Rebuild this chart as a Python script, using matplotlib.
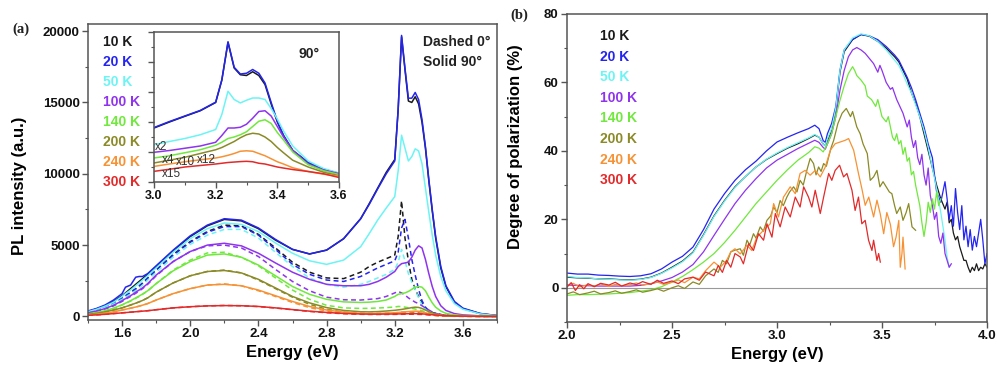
import matplotlib
matplotlib.use('Agg')
import matplotlib.pyplot as plt
from matplotlib.ticker import MultipleLocator, NullFormatter

plt.rcParams['font.family'] = ['Liberation Sans', 'DejaVu Sans']
plt.rcParams['font.weight'] = 'bold'

# ---------------- data: panel (a) PL spectra ----------------
temps = ['10 K', '20 K', '50 K', '100 K', '140 K', '200 K', '240 K', '300 K']
colors = ['#1a1a1a', '#2424f2', '#6cf4f4', '#8f33ee', '#70e83c', '#8a8a26', '#f79234', '#e32a2a']

E_PL = [1.40, 1.45, 1.50, 1.55, 1.60, 1.62, 1.65, 1.68, 1.70, 1.72, 1.75, 1.80, 1.90, 2.00, 2.10, 2.20,
        2.30, 2.40, 2.50, 2.60, 2.70, 2.80, 2.90, 3.00, 3.05, 3.10, 3.15, 3.20, 3.22, 3.24, 3.26, 3.28,
        3.30, 3.32, 3.34, 3.36, 3.38, 3.40, 3.42, 3.44, 3.47, 3.50, 3.55, 3.60, 3.70, 3.80]

sol_10K = [350, 520, 750, 1050, 1450, 1650, 1950, 2250, 2450, 2650, 2950, 3500, 4600, 5600, 6350, 6800,
           6700, 6150, 5350, 4700, 4380, 4650, 5450, 6850, 7900, 9000, 10100, 11000, 14500, 19600, 17300, 15100,
           15000, 15400, 14900, 13600, 11800, 9500, 7400, 5500, 3400, 2100, 1000, 550, 200, 60]
sol_20K = [380, 560, 800, 1150, 1600, 2050, 2200, 2750, 2800, 2800, 3000, 3550, 4650, 5650, 6400, 6850,
           6750, 6200, 5400, 4700, 4380, 4650, 5450, 6850, 7850, 8950, 10000, 10900, 14500, 19700, 17400, 15300,
           15300, 15700, 15200, 13800, 11900, 9600, 7500, 5600, 3500, 2150, 1050, 580, 210, 60]
sol_50K = [330, 500, 720, 1000, 1400, 1600, 1850, 2150, 2350, 2550, 2850, 3400, 4500, 5450, 6150, 6550,
           6450, 5950, 5150, 4430, 3900, 3650, 3950, 4890, 5800, 6760, 7600, 8400, 10200, 12700, 11800, 10900,
           11200, 11750, 11600, 10700, 9000, 7300, 5700, 4300, 2800, 1800, 900, 500, 180, 50]
sol_100K = [250, 380, 550, 780, 1100, 1250, 1450, 1700, 1850, 2000, 2300, 2900, 3850, 4550, 5000, 5130,
            4950, 4430, 3750, 3100, 2600, 2250, 2150, 2150, 2250, 2450, 2750, 3150, 3500, 3700, 3750, 3800,
            4150, 4650, 4950, 4800, 4000, 3000, 2100, 1400, 750, 420, 200, 110, 40, 15]
sol_140K = [180, 270, 400, 580, 820, 930, 1100, 1300, 1430, 1570, 1800, 2300, 3200, 3850, 4300, 4380,
            4150, 3600, 2850, 2100, 1550, 1200, 1020, 980, 1000, 1050, 1150, 1400, 1550, 1600, 1650, 1750,
            1900, 2050, 2100, 2050, 1800, 1350, 950, 650, 380, 220, 110, 60, 25, 10]
sol_200K = [150, 220, 320, 450, 600, 680, 800, 930, 1020, 1120, 1300, 1700, 2350, 2850, 3150, 3220,
            3050, 2600, 2000, 1400, 950, 620, 420, 330, 320, 340, 380, 430, 460, 490, 530, 570,
            620, 650, 630, 560, 450, 340, 250, 170, 100, 60, 30, 20, 10, 5]
sol_240K = [100, 150, 220, 320, 450, 500, 580, 660, 720, 790, 900, 1150, 1600, 1950, 2200, 2250,
            2150, 1850, 1450, 1050, 700, 450, 300, 220, 200, 210, 230, 260, 280, 300, 320, 340,
            360, 370, 360, 320, 260, 200, 150, 110, 70, 40, 20, 10, 5, 0]
sol_300K = [80, 110, 150, 200, 250, 270, 300, 330, 350, 370, 400, 470, 600, 680, 740, 760,
            750, 700, 600, 480, 370, 280, 210, 170, 160, 160, 165, 170, 175, 180, 185, 190,
            195, 195, 190, 180, 160, 140, 120, 100, 70, 50, 30, 20, 10, 5]

das_10K = [300, 450, 650, 920, 1250, 1400, 1650, 1900, 2100, 2300, 2650, 3250, 4350, 5250, 5950, 6400,
           6350, 5750, 4800, 3800, 3100, 2700, 2650, 3100, 3500, 3800, 4050, 4300, 5600, 8100, 5500, 3900,
           2600, 1900, 1400, 950, 550, 400, 280, 200, 130, 90, 50, 30, 10, 0]
das_20K = [310, 460, 670, 950, 1300, 1450, 1700, 1950, 2150, 2350, 2700, 3250, 4300, 5200, 5900, 6300,
           6300, 5700, 4700, 3650, 2950, 2550, 2450, 2800, 3100, 3400, 3650, 3900, 4500, 6200, 6800, 5500,
           4000, 2900, 1900, 1100, 650, 400, 280, 200, 130, 80, 40, 20, 10, 0]
das_50K = [280, 420, 620, 870, 1200, 1350, 1580, 1820, 2000, 2200, 2550, 3100, 4150, 5050, 5700, 6100,
           6100, 5500, 4500, 3500, 2700, 2250, 2050, 2250, 2450, 2700, 2950, 3300, 3800, 4700, 3900, 3000,
           2400, 1900, 1300, 800, 500, 300, 200, 140, 80, 50, 25, 10, 5, 0]
das_100K = [240, 360, 520, 740, 1050, 1200, 1400, 1620, 1780, 1950, 2250, 2850, 3850, 4550, 4950, 5000,
            4800, 4200, 3300, 2450, 1800, 1350, 1170, 1150, 1200, 1250, 1400, 1650, 1750, 1650, 1500, 1300,
            1150, 1000, 900, 750, 600, 450, 320, 220, 130, 80, 40, 20, 5, 0]
das_140K = [170, 260, 380, 560, 800, 910, 1080, 1270, 1400, 1550, 1780, 2300, 3250, 3950, 4450, 4500,
            4150, 3550, 2700, 1850, 1200, 780, 600, 560, 570, 590, 620, 660, 700, 690, 650, 610,
            570, 520, 460, 400, 330, 260, 200, 150, 100, 60, 30, 15, 5, 0]
das_200K = [150, 220, 320, 450, 600, 680, 800, 930, 1020, 1120, 1300, 1700, 2350, 2850, 3150, 3250,
            3050, 2550, 1950, 1350, 850, 500, 300, 220, 200, 210, 220, 250, 270, 290, 300, 310,
            300, 280, 250, 220, 180, 140, 100, 70, 40, 25, 10, 5, 0, 0]
das_240K = [100, 150, 220, 320, 450, 500, 580, 660, 720, 790, 900, 1150, 1600, 1950, 2200, 2280,
            2150, 1800, 1400, 980, 620, 380, 240, 170, 150, 150, 160, 180, 190, 200, 210, 220,
            220, 210, 200, 180, 150, 120, 90, 60, 40, 20, 10, 5, 0, 0]
das_300K = [80, 110, 150, 200, 250, 270, 300, 330, 350, 370, 400, 470, 600, 680, 740, 770,
            750, 690, 590, 470, 350, 260, 190, 150, 140, 140, 140, 145, 150, 150, 155, 155,
            155, 150, 145, 140, 125, 110, 95, 80, 55, 40, 25, 15, 5, 0]

# inset (90 deg, scaled)
E_IN = [3.00, 3.05, 3.10, 3.15, 3.20, 3.22, 3.24, 3.26, 3.28, 3.30, 3.32, 3.34, 3.36, 3.38, 3.40, 3.42,
        3.45, 3.50, 3.55, 3.60]
in_10K = [36, 40, 43.8, 47.5, 53, 68, 93, 76, 71.5, 71, 73.5, 71, 65, 52, 40, 31, 21, 13, 8.5, 5.6]
in_20K = [36.3, 40.3, 44, 47.7, 53.2, 68, 93.5, 76.5, 72, 72.5, 75, 72.5, 66, 53, 40.5, 31, 21, 13, 8.5, 5.8]
in_50K = [24.9, 27, 29, 31.5, 35, 45, 60.5, 55, 52.7, 54.5, 56, 56, 55, 49, 42, 34, 24, 14, 9, 6]
in_100K = [19.8, 21, 22.5, 24, 26.5, 31, 36, 36, 36.5, 38.5, 42.5, 47, 47.5, 44, 37, 30, 21, 12, 8, 5.6]
in_140K = [16, 17.5, 19.5, 21.5, 24.5, 26.5, 29, 30, 31.5, 33.5, 37, 40.5, 41.5, 39, 33, 28, 20, 11.5, 7.5, 5]
in_200K = [12.7, 14.5, 16.5, 19, 21.5, 23, 25, 27, 29.5, 31.5, 32.5, 32, 30, 27, 23, 19.5, 14.5, 10, 6.5, 4.2]
in_240K = [10.4, 12, 13.5, 14.8, 16, 16.8, 17.8, 19, 20.5, 20.8, 20.5, 19, 17.5, 15.5, 13.5, 12, 9.5, 7, 5.2, 3.8]
in_300K = [7.1, 8.5, 10, 11, 12, 12.5, 13, 13.3, 13.6, 13.8, 13.5, 12.5, 12, 11, 10, 9.3, 8.3, 7, 5.5, 3]
inset_scales = ['x2', 'x4', 'x10', 'x12', 'x15']

# ---------------- data: panel (b) degree of polarization ----------------
P10_E = [2.00, 2.05, 2.10, 2.15, 2.20, 2.25, 2.30, 2.35, 2.40, 2.45, 2.50, 2.55, 2.60, 2.65, 2.70, 2.75,
         2.80, 2.85, 2.90, 2.95, 3.00, 3.05, 3.10, 3.15, 3.18, 3.20, 3.22, 3.23, 3.24, 3.26, 3.28, 3.30,
         3.32, 3.36, 3.40, 3.44, 3.48, 3.52, 3.56, 3.58, 3.60, 3.62, 3.64, 3.66, 3.68, 3.70, 3.72, 3.74,
         3.76, 3.78, 3.80, 3.81, 3.82, 3.83, 3.84, 3.85, 3.86, 3.87, 3.88, 3.89, 3.90, 3.91, 3.92, 3.93,
         3.94, 3.95, 3.96, 3.97, 3.98, 3.99, 4.00]
P10 = [3.1, 2.9, 2.8, 2.6, 2.6, 2.4, 2.3, 2.5, 3.1, 4.3, 6.0, 7.8, 10.4, 15.5, 21, 25.5,
       29.5, 32.5, 35.3, 37.5, 39.2, 40.8, 42.1, 43.6, 44.6, 44, 42, 41.5, 43, 46, 52, 63,
       69, 72.5, 74, 73.5, 72, 70, 67.5, 66, 63.5, 61, 57, 54, 50, 45, 40, 35,
       30, 26, 23, 25, 19, 20, 16, 14, 15, 12, 10, 8, 8, 6, 4.5, 6,
       5, 7, 5, 6, 5.5, 7, 6]
P20_E = P10_E
P20 = [4.3, 4.0, 4.0, 3.7, 3.6, 3.4, 3.3, 3.5, 4.1, 5.5, 7.5, 9.2, 11.9, 17, 23, 27.5,
       31.4, 34.5, 37, 40, 42.6, 44, 45.3, 46.5, 47.5, 46.5, 43, 42.5, 45, 48, 53, 63.6,
       69.5, 72.6, 74, 73.6, 72.5, 70.5, 68, 66.5, 64, 61.5, 58.5, 55, 51, 47, 42, 38,
       28, 25, 31, 26, 20, 24, 18, 29, 22, 17, 24, 14, 18, 12, 17, 11,
       15, 12, 16, 20, 14, 7, 10]
P50_E = P10_E[:53]
P50 = [3.3, 3.0, 2.9, 2.6, 2.5, 2.3, 2.2, 2.4, 3.0, 4.2, 5.8, 7.6, 10.2, 15.3, 20.8, 25.3,
       29.3, 32.5, 35.3, 37.6, 39.4, 41, 42.4, 43.8, 44.8, 44, 42, 41.5, 43.5, 46.5, 52.5, 63.5,
       69.5, 73, 74.2, 73.6, 72, 69.5, 66.5, 65, 62.5, 59.5, 57, 53.5, 50, 46, 41, 35,
       29, 22, 14, 9, 6]
P100_E = [2.00, 2.05, 2.10, 2.15, 2.20, 2.25, 2.30, 2.35, 2.40, 2.45, 2.50, 2.55, 2.60, 2.65, 2.70, 2.75,
          2.80, 2.85, 2.90, 2.95, 3.00, 3.05, 3.10, 3.15, 3.18, 3.20, 3.22, 3.23, 3.24, 3.26, 3.28, 3.30,
          3.32, 3.34, 3.36, 3.38, 3.40, 3.42, 3.44, 3.46, 3.48, 3.49, 3.50, 3.52, 3.54, 3.55, 3.57, 3.60,
          3.62, 3.63, 3.64, 3.65, 3.66, 3.67, 3.68, 3.69, 3.70, 3.71, 3.72, 3.73, 3.74, 3.75, 3.76, 3.77,
          3.78, 3.79, 3.80, 3.81, 3.82, 3.83]
P100 = [0.8, 0.7, 0.6, 0.5, 0.5, 0.5, 0.5, 0.7, 1.2, 2.0, 3.0, 4.6, 6.8, 10.5, 15.3, 20,
        24.6, 28.5, 31.9, 35, 37.3, 39, 40.7, 42.2, 43.1, 42.5, 41, 40.5, 42, 45, 50, 57.8,
        63.5, 67.5, 69.5, 70.2, 69.5, 68.5, 67, 65.5, 63, 65, 63.5, 60, 58, 58.5, 55, 51,
        47, 49, 44, 41, 43, 38, 36, 39, 33, 30, 35, 27, 24, 20, 22, 15,
        13, 16, 10, 8, 6, 7]
P140_E = [2.00, 2.05, 2.10, 2.15, 2.20, 2.25, 2.30, 2.35, 2.40, 2.45, 2.50, 2.55, 2.60, 2.65, 2.70, 2.75,
          2.80, 2.85, 2.90, 2.95, 3.00, 3.05, 3.10, 3.15, 3.18, 3.20, 3.22, 3.24, 3.26, 3.28, 3.30, 3.32,
          3.34, 3.36, 3.37, 3.38, 3.40, 3.42, 3.43, 3.45, 3.47, 3.48, 3.50, 3.52, 3.53, 3.55, 3.56, 3.57,
          3.58, 3.59, 3.60, 3.61, 3.62, 3.63, 3.64, 3.65, 3.66, 3.67, 3.68, 3.69, 3.70, 3.71, 3.72, 3.73,
          3.74, 3.75, 3.76, 3.77, 3.78]
P140 = [-2.2, -2.0, -2.0, -1.9, -1.8, -1.6, -1.4, -1.0, -0.6, 0.3, 1.7, 3.3, 5.3, 7.5, 10, 13.2,
        16.8, 20.7, 24.6, 28, 31.4, 34.5, 37.3, 39.5, 41.2, 40.8, 39.7, 42, 45, 50, 54.8, 59,
        62.6, 64.6, 63.5, 62, 60.7, 59, 56, 55, 53, 55, 50, 48.5, 50, 44, 43, 45,
        42, 43, 39, 41, 37, 38, 33, 34, 30, 27, 24, 19, 15, 19, 25, 22,
        26, 23, 28, 24, 26]
P200_E = [2.00, 2.03, 2.06, 2.10, 2.13, 2.16, 2.20, 2.23, 2.26, 2.30, 2.33, 2.36, 2.40, 2.43, 2.46, 2.50,
          2.53, 2.56, 2.60, 2.63, 2.66, 2.70, 2.72, 2.74, 2.76, 2.78, 2.80, 2.825, 2.84, 2.857, 2.87, 2.888,
          2.90, 2.92, 2.935, 2.952, 2.97, 2.984, 3.00, 3.015, 3.03, 3.047, 3.06, 3.079, 3.095, 3.11, 3.125,
          3.142, 3.158, 3.174, 3.186, 3.198, 3.21, 3.222, 3.235, 3.246, 3.258, 3.27, 3.29, 3.31, 3.33, 3.35,
          3.36, 3.38, 3.396, 3.41, 3.43, 3.444, 3.46, 3.476, 3.49, 3.505, 3.52, 3.535, 3.547, 3.56, 3.57,
          3.587, 3.60, 3.615, 3.627, 3.643, 3.66]
P200 = [-1.8, -1.2, -2.0, -1.5, -1.0, -1.8, -1.4, -0.9, -1.6, -1.1, -0.6, -1.3, -0.8, -0.3, -1.0, 0.0,
        0.6, -0.2, 1.7, 1.0, 3.5, 5.5, 4.5, 8, 7, 10.5, 11, 11.4, 9.5, 13.9, 12.5, 15.8,
        14.5, 17.8, 16.5, 19.7, 21, 23.6, 22, 25.5, 24, 26.5, 28, 29.5, 28, 31.4, 30,
        34.3, 37.8, 36.3, 33, 35.3, 34, 36.3, 35.5, 38.2, 41, 43.1, 48, 51, 52.4, 50,
        51.5, 47, 45, 42, 39.2, 31.4, 32.4, 34.3, 29.5, 31, 29.5, 28, 27.5, 24, 21.7,
        23.6, 19.7, 22, 24.6, 17.8, 16.8]
P240_E = [2.00, 2.03, 2.06, 2.10, 2.13, 2.16, 2.20, 2.23, 2.26, 2.30, 2.33, 2.36, 2.40, 2.43, 2.46, 2.50,
          2.53, 2.56, 2.60, 2.63, 2.66, 2.70, 2.73, 2.76, 2.78, 2.80, 2.825, 2.857, 2.88, 2.904, 2.936,
          2.968, 2.984, 3.007, 3.031, 3.063, 3.087, 3.11, 3.134, 3.158, 3.182, 3.206, 3.23, 3.254, 3.277,
          3.301, 3.325, 3.341, 3.365, 3.388, 3.404, 3.42, 3.437, 3.46, 3.476, 3.492, 3.508, 3.523, 3.54,
          3.555, 3.567, 3.58, 3.587, 3.595, 3.60, 3.61]
P240 = [0.7, 1.3, 0.3, 0.9, 0.5, 1.1, 0.4, 1.0, 0.6, 0.9, 1.4, 0.8, 1.2, 1.7, 1.0, 1.6,
        2.3, 1.5, 3.1, 2.6, 5, 7.5, 6, 8, 10.5, 11.4, 9.9, 12.4, 10.9, 14.8, 16.8,
        18.7, 24.6, 20.7, 26.5, 29.5, 27.5, 33.4, 34.3, 32.9, 34.3, 32.4, 35.3, 40.2, 42.1,
        42.6, 43.1, 43.6, 40.2, 33.4, 29, 24.1, 26.5, 20.7, 25.6, 21.5, 15.8, 22, 18.5,
        12, 14.8, 19.7, 6, 10, 14.8, 5.5]
P300_E = [2.00, 2.02, 2.04, 2.06, 2.08, 2.10, 2.13, 2.16, 2.20, 2.23, 2.26, 2.30, 2.33, 2.36, 2.40, 2.43,
          2.46, 2.50, 2.53, 2.56, 2.60, 2.63, 2.66, 2.70, 2.72, 2.74, 2.76, 2.78, 2.80, 2.825, 2.84,
          2.865, 2.888, 2.912, 2.936, 2.952, 2.976, 2.992, 3.015, 3.039, 3.063, 3.087, 3.11, 3.127, 3.15,
          3.166, 3.182, 3.206, 3.222, 3.246, 3.261, 3.277, 3.298, 3.317, 3.333, 3.357, 3.372, 3.388, 3.404,
          3.42, 3.436, 3.452, 3.46, 3.476, 3.484, 3.492]
P300 = [0.2, 1.5, -0.8, 0.9, -0.3, 1.2, 0.3, 1.3, 0.8, 1.6, 0.5, 1.4, 0.9, 1.8, 1.0, 2.2,
        1.3, 2.0, 1.2, 2.6, 3.1, 2.2, 4.6, 3.5, 6.5, 4.5, 8, 6, 10, 9, 7,
        12.9, 10.9, 15.8, 13.9, 18.7, 14.8, 21.7, 17.8, 23.6, 20.7, 26.5, 23.6, 29.5, 26.5,
        23.6, 28.5, 21.7, 26.5, 33.4, 31.4, 34.3, 35.8, 32.4, 33.4, 28.5, 22.6, 26.5, 18.7,
        19.7, 13.9, 10.9, 13.9, 8, 10, 7.5]

solids = [sol_10K, sol_20K, sol_50K, sol_100K, sol_140K, sol_200K, sol_240K, sol_300K]
dashes = [das_10K, das_20K, das_50K, das_100K, das_140K, das_200K, das_240K, das_300K]
insets = [in_10K, in_20K, in_50K, in_100K, in_140K, in_200K, in_240K, in_300K]
pol = [(P10_E, P10), (P20_E, P20), (P50_E, P50), (P100_E, P100), (P140_E, P140),
       (P200_E, P200), (P240_E, P240), (P300_E, P300)]

# ---------------- figure ----------------
W, H = 997, 373
fig = plt.figure(figsize=(W / 100, H / 100), dpi=100)


def frac(x0, y0, x1, y1):
    return [x0 / W, 1 - y1 / H, (x1 - x0) / W, (y1 - y0) / H]


axA = fig.add_axes(frac(88, 24, 497, 320))
axB = fig.add_axes(frac(567, 14, 987, 322))
axI = fig.add_axes(frac(154, 32, 339, 182))

spine_col = '#555555'
tick_fs = 9.5


def style(ax, fs=tick_fs):
    for s in ax.spines.values():
        s.set_color(spine_col)
        s.set_linewidth(1.1)
    ax.tick_params(which='major', direction='out', length=4, width=1, colors=spine_col,
                   labelsize=fs, labelcolor='#111111', pad=2)
    ax.tick_params(which='minor', direction='out', length=2.5, width=0.8, colors=spine_col)
    ax.tick_params(top=False, right=False)
    for lab in ax.get_xticklabels() + ax.get_yticklabels():
        lab.set_fontweight('bold')


# panel a
for c, s, d in zip(colors, solids, dashes):
    axA.plot(E_PL, d, color=c, lw=1.1, ls=(0, (3.2, 2.2)))
for c, s in zip(colors, solids):
    axA.plot(E_PL, s, color=c, lw=1.1)
axA.set_xlim(1.4, 3.8)
axA.set_ylim(-250, 20500)
axA.set_xticks([1.6, 2.0, 2.4, 2.8, 3.2, 3.6])
axA.xaxis.set_minor_locator(MultipleLocator(0.2))
axA.yaxis.set_major_locator(MultipleLocator(5000))
axA.yaxis.set_minor_locator(MultipleLocator(2500))
axA.set_xticklabels(['1.6', '2.0', '2.4', '2.8', '3.2', '3.6'])
style(axA)
axA.set_xlabel('Energy (eV)', fontsize=12, fontweight='bold', labelpad=3)
axA.set_ylabel('PL intensity (a.u.)', fontsize=12, fontweight='bold')
axA.yaxis.set_label_coords(-0.148, 0.455)

for i, (t, c) in enumerate(zip(temps, colors)):
    fig.text(103 / W, 1 - (42 + 20 * i) / H, t, color=c, fontsize=10, fontweight='bold',
             ha='left', va='center')
fig.text(423 / W, 1 - 42 / H, 'Dashed 0°', color='#222222', fontsize=10, fontweight='bold',
         ha='left', va='center')
fig.text(423 / W, 1 - 62 / H, 'Solid 90°', color='#222222', fontsize=10, fontweight='bold',
         ha='left', va='center')
fig.text(12 / W, 1 - 29 / H, '(a)', fontsize=10.5, fontweight='bold', family='Liberation Serif',
         ha='left', va='center', color='#222222')

# inset
for c, v in zip(colors, insets):
    axI.plot(E_IN, v, color=c, lw=1.1)
axI.set_xlim(3.0, 3.6)
axI.set_ylim(0, 100)
axI.set_xticks([3.0, 3.2, 3.4, 3.6])
axI.set_xticklabels(['3.0', '3.2', '3.4', '3.6'])
axI.xaxis.set_minor_locator(MultipleLocator(0.1))
axI.yaxis.set_major_locator(MultipleLocator(20))
axI.yaxis.set_minor_locator(MultipleLocator(10))
axI.yaxis.set_major_formatter(NullFormatter())
style(axI, fs=9)
axI.text(0.78, 0.85, '90°', transform=axI.transAxes, fontsize=10, fontweight='bold',
         ha='left', va='center', color='#222222')
scale_pos = [(3.003, 23.5), (3.027, 14.5), (3.072, 13.3), (3.138, 14.5), (3.024, 5.5)]
for lab, (x, y) in zip(inset_scales, scale_pos):
    axI.text(x, y, lab, fontsize=8.5, fontweight='normal', color='#333333', ha='left', va='center')

# panel b
for c, (e, p) in zip(colors, pol):
    axB.plot(e, p, color=c, lw=0.9)
axB.axhline(0, color='#999999', lw=0.8, zorder=0)
axB.set_xlim(2.0, 4.0)
axB.set_ylim(-10, 80)
axB.set_xticks([2.0, 2.5, 3.0, 3.5, 4.0])
axB.set_xticklabels(['2.0', '2.5', '3.0', '3.5', '4.0'])
axB.xaxis.set_minor_locator(MultipleLocator(0.25))
axB.set_yticks([0, 20, 40, 60, 80])
axB.yaxis.set_minor_locator(MultipleLocator(10))
style(axB)
axB.set_xlabel('Energy (eV)', fontsize=12, fontweight='bold', labelpad=3)
axB.set_ylabel('Degree of polarization (%)', fontsize=12, fontweight='bold')
axB.yaxis.set_label_coords(-0.105, 0.57)

for i, (t, c) in enumerate(zip(temps, colors)):
    fig.text(600 / W, 1 - (36 + 20.6 * i) / H, t, color=c, fontsize=10, fontweight='bold',
             ha='left', va='center')
fig.text(510 / W, 1 - 15 / H, '(b)', fontsize=10.5, fontweight='bold', family='Liberation Serif',
         ha='left', va='center', color='#222222')

fig.savefig('out.png', dpi=100)
